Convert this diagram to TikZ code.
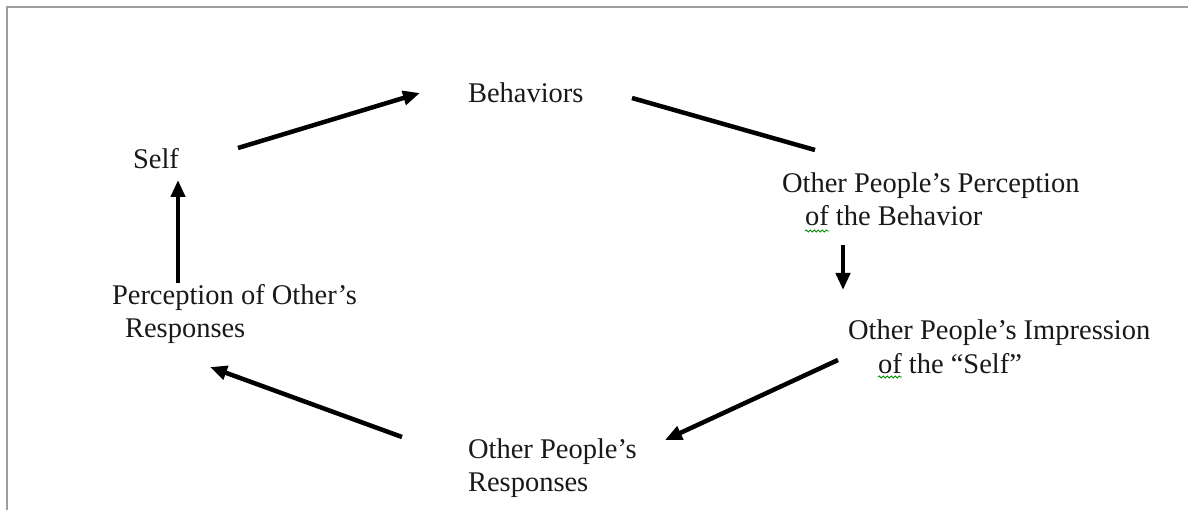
\documentclass[tikz,border=0pt]{standalone}
\usepackage{fontspec}
\setmainfont{Liberation Serif}
\usetikzlibrary{arrows.meta,calc,decorations.pathmorphing}
\newcommand\twolines[2]{\vtop{\hbox{#1}\hbox{#2}}}
\tikzset{
  label text/.style={anchor=base west, inner sep=0pt, outer sep=0pt,
    font=\fontsize{28.5}{33}\selectfont, text=black!90},
  flow/.style={line width=4.5pt, -{Triangle[length=17pt,width=14pt]}},
  plainflow/.style={line width=4.5pt},
  frame/.style={draw=black!38, line width=2pt},
  squiggle/.style={draw=green!55!black, line width=0.8pt,
    decorate, decoration={snake, amplitude=1.1pt, segment length=4pt}}
}
\begin{document}
\begin{tikzpicture}[x=1pt,y=-1pt]
\useasboundingbox (0,0) rectangle (1188,510);
\fill[white] (0,0) rectangle (1188,510);
% frame
\draw[frame] (7,510) -- (7,7) -- (1188,7);

% nodes
\node[label text] (beh)  at (468,103) {Behaviors};
\node[label text] (self) at (133,169) {Self};
\node[label text] (opp)  at (782,193) {\twolines{Other People’s Perception}{\hspace*{23pt}of the Behavior}};
\node[label text] (opi)  at (848,340) {\twolines{Other People’s Impression}{\hspace*{30pt}of the “Self”}};
\node[label text] (opr)  at (468,458) {\twolines{Other People’s}{Responses}};
\node[label text] (por)  at (112,305) {\twolines{Perception of Other’s}{\hspace*{13pt}Responses}};

% spell-check marks
\draw[squiggle] ($(opp.base west)+(23,38)$) -- ++(24,0);
\draw[squiggle] ($(opi.base west)+(30,37)$) -- ++(24,0);

% connectors
\draw[flow] ($(self.base west)+(105,-21)$) -- ($(beh.base west)+(-48,-10)$);
\draw[plainflow] ($(beh.base west)+(164,-5)$) -- ($(opp.base west)+(33,-43)$);
\draw[flow] ($(opp.base west)+(61,52)$) -- ($(opi.base west)+(-5,-50)$);
\draw[flow] ($(opi.base west)+(-10,20)$) -- ($(opr.base west)+(197,-18)$);
\draw[flow] ($(opr.base west)+(-66,-21)$) -- ($(por.base west)+(98,62)$);
\draw[flow] ($(por.base west)+(66,-22)$) -- ($(self.base west)+(45,11)$);
\end{tikzpicture}
\end{document}
